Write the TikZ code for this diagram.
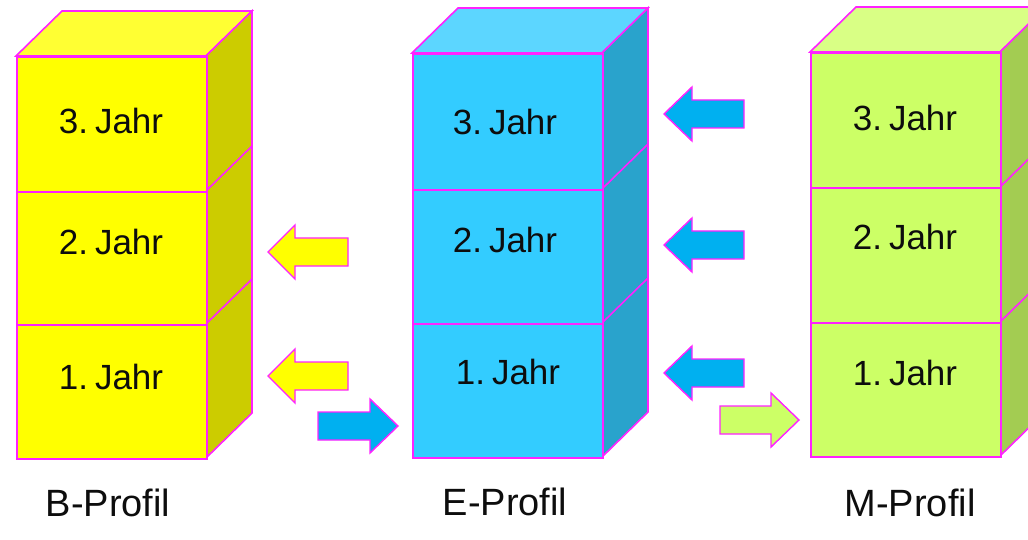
\documentclass[tikz,border=0pt]{standalone}
\usepackage{fontspec}
\setmainfont{Liberation Sans}
\definecolor{mag}{HTML}{FF22FF}
\definecolor{yfront}{HTML}{FFFF00}
\definecolor{yside}{HTML}{CCCC00}
\definecolor{ytop}{HTML}{FFFF33}
\definecolor{bfront}{HTML}{33CCFF}
\definecolor{bside}{HTML}{29A3CC}
\definecolor{btop}{HTML}{5CD6FF}
\definecolor{gfront}{HTML}{CCFF66}
\definecolor{gside}{HTML}{A3CC52}
\definecolor{gtop}{HTML}{D9FF85}
\definecolor{arrblue}{HTML}{00B0F0}
\tikzset{
  edge/.style={draw=mag, line width=1.6pt, line join=miter},
  yeartext/.style={font=\fontsize{35}{40}\selectfont, text=black!95, inner sep=0pt},
  proftext/.style={font=\fontsize{38}{42}\selectfont, text=black!95, inner sep=0pt},
  blockarrow/.style={draw=mag, line width=1.4pt, line join=miter}
}
% #1 name, #2 left x, #3 right x, #4 top y, #5 divider 1, #6 divider 2, #7 bottom y, #8 colour prefix
\newcommand\drawstack[8]{%
  \pgfmathsetmacro\stkhA{#5-#4}\pgfmathsetmacro\stkhB{#6-#5}\pgfmathsetmacro\stkhC{#7-#6}%
  \pgfmathsetmacro\stkw{#3-#2}%
  \path[edge, fill=#8top] (#2,#4) -- ({#2+46},{#4-45}) -- ({#3+46},{#4-45}) -- (#3,#4) -- cycle;
  \path[edge, fill=#8side] (#3,#4) -- ({#3+46},{#4-45}) -- ({#3+46},{#7-45}) -- (#3,#7) -- cycle;
  \draw[edge] (#3,#5) -- ({#3+46},{#5-45});
  \draw[edge] (#3,#6) -- ({#3+46},{#6-45});
  \node[edge, fill=#8front, rectangle, inner sep=0pt, minimum width=\stkw pt, minimum height=\stkhA pt, anchor=north west] (#1-3) at (#2,#4) {};
  \node[edge, fill=#8front, rectangle, inner sep=0pt, minimum width=\stkw pt, minimum height=\stkhB pt, anchor=north west] (#1-2) at (#2,#5) {};
  \node[edge, fill=#8front, rectangle, inner sep=0pt, minimum width=\stkw pt, minimum height=\stkhC pt, anchor=north west] (#1-1) at (#2,#6) {};
}
% #1 tip x, #2 tip y, #3 head base x, #4 tail x, #5 colour
\newcommand\blockarr[5]{%
  \path[blockarrow, fill=#5] (#1,#2) -- (#3,{#2-27}) -- (#3,{#2-14}) -- (#4,{#2-14})
    -- (#4,{#2+14}) -- (#3,{#2+14}) -- (#3,{#2+27}) -- cycle;
}
\begin{document}
\begin{tikzpicture}[x=1pt, y=-1pt]
\useasboundingbox (0,0) rectangle (1028,540);
\clip (0,0) rectangle (1028,540);
\fill[white] (0,0) rectangle (1028,540);

\drawstack{B}{16}{206}{56}{191}{324}{458}{y}
\drawstack{E}{412}{602}{53}{189}{323}{457}{b}
\drawstack{M}{810}{1000}{52}{187}{322}{456}{g}

\node[yeartext] (B3t) at (111,121) {3.\hspace{0.2em}Jahr};
\node[yeartext] (B2t) at (111,242) {2.\hspace{0.2em}Jahr};
\node[yeartext] (B1t) at (111,377) {1.\hspace{0.2em}Jahr};
\node[yeartext] (E3t) at (505,122) {3.\hspace{0.2em}Jahr};
\node[yeartext] (E2t) at (505,240) {2.\hspace{0.2em}Jahr};
\node[yeartext] (E1t) at (508,372) {1.\hspace{0.2em}Jahr};
\node[yeartext] (M3t) at (905,118) {3.\hspace{0.2em}Jahr};
\node[yeartext] (M2t) at (905,237) {2.\hspace{0.2em}Jahr};
\node[yeartext] (M1t) at (905,373) {1.\hspace{0.2em}Jahr};

\node[proftext] (Blab) at (108,503) {B-Profil};
\node[proftext] (Elab) at (505,502) {E-Profil};
\node[proftext] (Mlab) at (910,503) {M-Profil};

\blockarr{268}{252}{295}{348}{yfront}
\blockarr{268}{376}{295}{348}{yfront}
\blockarr{398}{426}{370}{318}{arrblue}
\blockarr{664}{114}{692}{744}{arrblue}
\blockarr{664}{245}{692}{744}{arrblue}
\blockarr{664}{373}{692}{744}{arrblue}
\blockarr{799}{420}{771}{720}{gfront}
\end{tikzpicture}
\end{document}
